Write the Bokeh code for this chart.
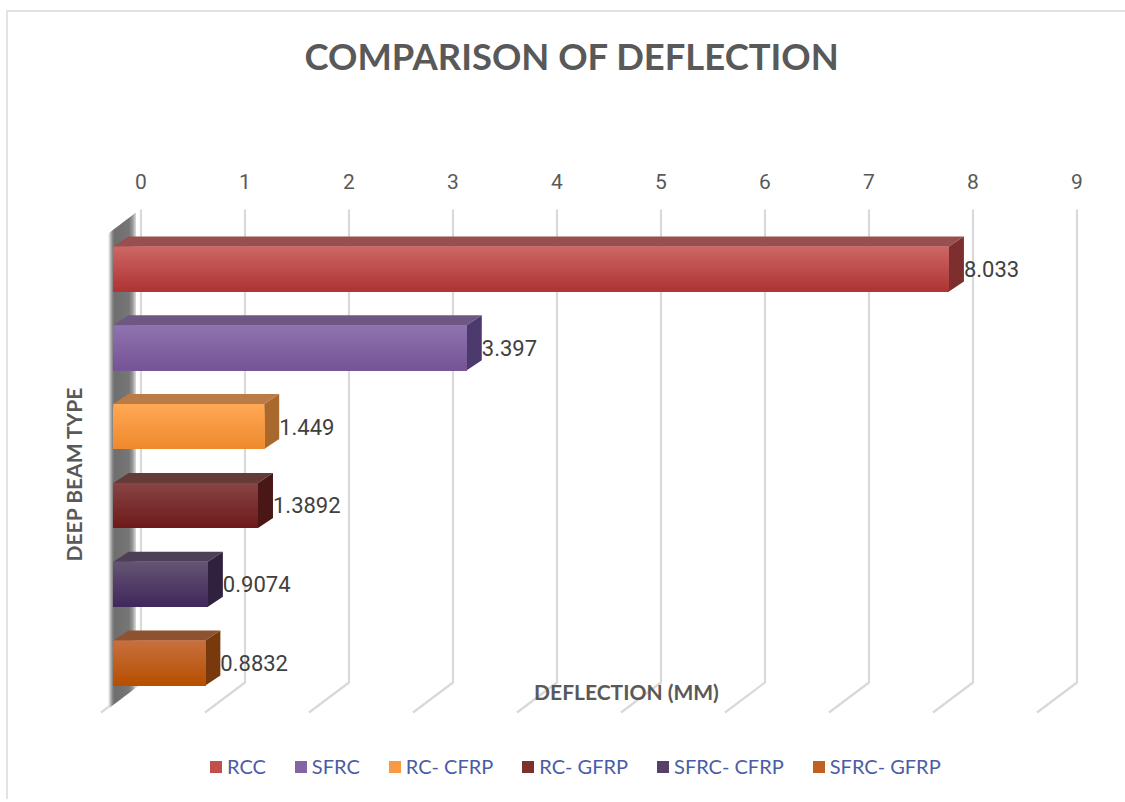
from bokeh.plotting import figure
from bokeh.embed import file_html
from bokeh.resources import INLINE
from bokeh.models import Range1d, LinearAxis, FixedTicker, Legend, LegendItem, Title
from bokeh.core.properties import value

categories = ["RCC", "SFRC", "RC- CFRP", "RC- GFRP", "SFRC- CFRP", "SFRC- GFRP"]
deflection = [8.033, 3.397, 1.449, 1.3892, 0.9074, 0.8832]
value_labels = ["8.033", "3.397", "1.449", "1.3892", "0.9074", "0.8832"]
ticks = [0, 1, 2, 3, 4, 5, 6, 7, 8, 9]
grad_top = ["#cc6664", "#8d73ae", "#ffa755", "#874444", "#645473", "#c76f3e"]
grad_bot = ["#af3533", "#775397", "#ee8a2c", "#6f1a1a", "#42285c", "#b75000"]
top_face = ["#974f4f", "#6f5783", "#bb7b47", "#673a3a", "#4d4056", "#8e5230"]
side_face = ["#7c2f2e", "#4c3a6e", "#a9682c", "#4a1616", "#30213f", "#783a0c"]

ORG_X, ORG_Y = 8, 12   # canvas origin on the page
W = 1125 - ORG_X
PX_X = 104.0    # px per deflection unit
PX_Y = 78.8     # px per row
FRAME_TOP, FRAME_BOT = 200, 800   # page px
ZERO_BACK = 140.5  # page px of tick 0 on the back wall
ROW0 = 269.5

def xd(dpx):
    return dpx / PX_X
def xp(px):
    return (px - ZERO_BACK) / PX_X
def yp(py):
    return (py - ROW0) / PX_Y
def yd(dpx):
    return dpx / PX_Y
def mix(a, b, t):
    ca = [int(a[i:i + 2], 16) for i in (1, 3, 5)]
    cb = [int(b[i:i + 2], 16) for i in (1, 3, 5)]
    return "#%02x%02x%02x" % tuple(round(u + (v - u) * t) for u, v in zip(ca, cb))

p = figure(frame_width=W, frame_height=FRAME_BOT - FRAME_TOP, output_backend="svg", toolbar_location=None,
           x_range=Range1d(xp(ORG_X), xp(ORG_X + W)), y_range=Range1d(yp(FRAME_BOT), yp(FRAME_TOP)),
           x_axis_location=None, y_axis_location=None,
           min_border_left=0, min_border_right=0, min_border_top=0, min_border_bottom=0,
           outline_line_color=None, background_fill_color="white", border_fill_color="white",
           styles={"border-top": "2px solid #e2e2e2", "border-left": "2px solid #e2e2e2",
                   "margin-top": "10px", "margin-left": "6px"})
p.grid.visible = False

# value axis on top of the back wall; the blank label only reserves the gap under the title
ax = LinearAxis(ticker=FixedTicker(ticks=ticks), axis_line_color=None,
                major_tick_line_color=None, minor_tick_line_color=None,
                major_label_text_font="Roboto", major_label_text_font_size="21px",
                major_label_text_color="#595959", major_label_standoff=5,
                axis_label=" ", axis_label_text_font_size="1px", axis_label_standoff=70)
p.add_layout(ax, "above")

title = Title(text="COMPARISON OF DEFLECTION", align="left", offset=296,
              text_font="Lato", text_font_style="bold",
              text_font_size="36.4px", text_color="#595959", standoff=38)
p.add_layout(title, "above")

# gridlines: floor and back wall
floor_front = yp(713)
floor_back = yp(683)
top_wall = yp(210)
for t in ticks:
    p.line([t - xd(40), t, t], [floor_front, floor_back, top_wall], line_color="#d9d9d9", line_width=2.2)

# side wall with shaded strips
n_wall = 27
wall_stops = [(0, "#e4e4e4"), (0.12, "#8a8a8a"), (0.2, "#6e6e6e"), (0.75, "#777777"), (0.9, "#a0a0a0"), (1, "#eeeeee")]
for i in range(n_wall):
    t = i / n_wall
    for (a, ca), (b, cb) in zip(wall_stops, wall_stops[1:]):
        if a <= t <= b:
            col = mix(ca, cb, (t - a) / (b - a))
            break
    x0, x1 = 108 + i, 109.5 + i
    y_t0, y_t1 = 234 - 0.76 * i, 234 - 0.76 * (i + 1.5)
    y_b0, y_b1 = 709 - 0.76 * i, 709 - 0.76 * (i + 1.5)
    p.patch([xp(x0), xp(x1), xp(x1), xp(x0)], [yp(y_t0), yp(y_t1), yp(y_b1), yp(y_b0)],
            fill_color=col, line_color=None)

# 3D bars
BASE = xp(113)
HALF = yd(22.5)
DX, DY = xd(15), yd(10)
n_strips = 22
legend_items = []
for i, (cat, v) in enumerate(zip(categories, deflection)):
    right = BASE + v
    base = p.hbar(y=[i], left=[BASE], right=[right], height=2 * HALF,
                  fill_color=mix(grad_top[i], grad_bot[i], 0.45), line_color=None)
    legend_items.append(LegendItem(label=cat, renderers=[base]))
    p.patch([BASE, BASE + DX, right + DX, right],
            [i - HALF, i - HALF - DY, i - HALF - DY, i - HALF],
            fill_color=top_face[i], line_color=None)
    p.patch([right, right + DX, right + DX, right],
            [i - HALF, i - HALF - DY, i + HALF - DY, i + HALF],
            fill_color=side_face[i], line_color=None)
    for s in range(n_strips):
        t = s / (n_strips - 1)
        y0 = i - HALF + 2 * HALF * s / n_strips
        p.quad(left=[BASE], right=[right], top=[y0], bottom=[i + HALF],
               fill_color=mix(grad_top[i], grad_bot[i], t), line_color=None)

# value labels
p.text(x=[BASE + v + DX for v in deflection], y=list(range(6)), text=value_labels,
       text_font=value("Roboto"), text_font_size="22px", text_color="#404040",
       text_align="left", text_baseline="middle")

# axis titles
p.text(x=[xp(626)], y=[yp(692)], text=["DEFLECTION (MM)"],
       text_font=value("Lato"), text_font_style="bold", text_font_size="21px",
       text_color="#595959", text_align="center", text_baseline="middle")
p.text(x=[xp(73)], y=[yp(474.5)], text=["DEEP BEAM TYPE"], angle=[1.5708],
       text_font=value("Lato"), text_font_style="bold", text_font_size="21px",
       text_color="#595959", text_align="center", text_baseline="middle")

legend = Legend(items=legend_items, orientation="horizontal", location=(200, 21),
                border_line_color=None, background_fill_alpha=0, margin=0, padding=8,
                spacing=27, label_standoff=4, glyph_width=15, glyph_height=15,
                label_text_font="Lato", label_text_font_size="20px",
                label_text_color="#4a5ca6", label_height=24)
p.add_layout(legend, "center")

open("out.html", "w").write(file_html(p, INLINE))
